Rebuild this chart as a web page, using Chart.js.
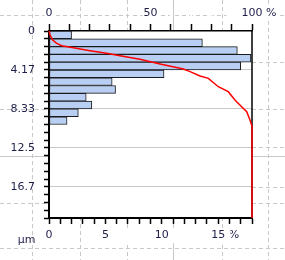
<!DOCTYPE html>
<html><head><meta charset="utf-8">
<script src="https://cdn.jsdelivr.net/npm/chart.js@4.4.1/dist/chart.umd.min.js"></script>
<style>html,body{margin:0;padding:0;background:#fff}#wrap{width:285px;height:260px;position:relative}</style>
</head><body><div id="wrap"><canvas id="c"></canvas></div>
<script>
// ---- data ----
const binCentersUm = [0.417, 1.25, 2.083, 2.917, 3.75, 4.583, 5.417, 6.25, 7.083, 7.917, 8.75, 9.583];
const binPercent   = [2.0, 13.6, 16.7, 17.9, 17.0, 10.2, 5.6, 5.9, 3.3, 3.8, 2.6, 1.6];
const cumSizeUm    = [0, 0.43, 0.96, 1.32, 1.57, 1.79, 2.11, 2.39, 2.64, 3.03, 3.53, 4.06, 4.35, 4.81, 5.06, 5.96, 6.49, 7.38, 8.10, 8.63, 9.52, 10.2, 20];
const cumPercent   = [0, 0.5, 1.8, 3.8, 6.3, 12.0, 20.2, 28.4, 35.0, 44.8, 54.7, 66.2, 69.5, 74.4, 78.5, 83.4, 88.3, 91.6, 94.9, 97.4, 99.0, 100, 100];
const yTickLabels      = ['0', '4.17', '8.33', '12.5', '16.7'];
const bottomTickLabels = ['0', '5', '10', '15 %'];
const topTickLabels    = ['0', '50', '100 %'];
const yUnitLabel = 'μm';

const FONT = {family: 'DejaVu Sans', size: 11};
const TXT = '#1e1e4a';
const GRIDC = '#c8c8c8';
const Y_STEP = 20 / 24;

function padPct(s) { return s.endsWith(' %') ? '    ' + s : s; }
function tickNo(v, step) { return Math.round(v / step); }

// decorative page grid behind the chart
const bgPlugin = {
  id: 'bg',
  beforeDraw(chart) {
    const ctx = chart.ctx, W = chart.width, H = chart.height, a = chart.chartArea;
    ctx.save();
    ctx.fillStyle = '#fff'; ctx.fillRect(0, 0, W, H);
    ctx.strokeStyle = GRIDC; ctx.lineWidth = 1;
    ctx.setLineDash([4, 3]);
    [15.5, 109.5, 203.5, 248.5].forEach(y => { ctx.beginPath(); ctx.moveTo(0, y); ctx.lineTo(W, y); ctx.stroke(); });
    [62.5, 147.5, 187.5].forEach(y => { ctx.beginPath(); ctx.moveTo(a.right, y); ctx.lineTo(W, y); ctx.stroke(); });
    [32.5, 80.5, 127.5, 222.5, 268.5].forEach(x => { ctx.beginPath(); ctx.moveTo(x, 0); ctx.lineTo(x, H); ctx.stroke(); });
    ctx.setLineDash([]);
    ctx.beginPath(); ctx.moveTo(173.5, 0); ctx.lineTo(173.5, H); ctx.stroke();
    ctx.beginPath(); ctx.moveTo(0, 156.5); ctx.lineTo(W, 156.5); ctx.stroke();
    ctx.fillStyle = '#fff';
    ctx.fillRect(a.left, a.top, a.right - a.left, a.bottom - a.top);
    ctx.restore();
  },
  beforeDatasetsDraw(chart) {
    const ctx = chart.ctx, a = chart.chartArea;
    ctx.save();
    ctx.strokeStyle = '#000'; ctx.lineWidth = 1.5;
    ctx.beginPath(); ctx.moveTo(a.right, a.top); ctx.lineTo(a.right, a.bottom); ctx.stroke();
    ctx.restore();
  },
  afterDraw(chart) {
    const ctx = chart.ctx;
    const xs = chart.scales.x, ys = chart.scales.y;
    ctx.save();
    ctx.font = FONT.size + 'px "' + FONT.family + '"';
    ctx.fillStyle = TXT; ctx.textAlign = 'center'; ctx.textBaseline = 'middle';
    ctx.fillText(yUnitLabel, (ys.left + ys.right) / 2 + 2, xs.top + 22);
    ctx.restore();
  }
};

new Chart(document.getElementById('c'), {
  data: {
    datasets: [
      {
        type: 'bar', indexAxis: 'y', xAxisID: 'x', yAxisID: 'y',
        data: binCentersUm.map((u, i) => ({y: u, x: binPercent[i]})),
        backgroundColor: '#b8cff3', borderColor: '#1a1a1a', borderWidth: 1,
        borderSkipped: false, barPercentage: 1, categoryPercentage: 1, grouped: false, order: 2
      },
      {
        type: 'line', indexAxis: 'y', xAxisID: 'x2', yAxisID: 'y',
        data: cumSizeUm.map((u, i) => ({y: u, x: cumPercent[i]})),
        borderColor: '#ff0000', borderWidth: 1.5, pointRadius: 0, tension: 0,
        fill: false, clip: 4, order: 1
      }
    ]
  },
  options: {
    responsive: true, maintainAspectRatio: false, animation: false,
    layout: {padding: {left: 0, right: 33, top: 0, bottom: 0}},
    plugins: {legend: {display: false}, tooltip: {enabled: false}},
    scales: {
      y: {
        type: 'linear', position: 'left', reverse: true, min: 0, max: 20, offset: false,
        afterFit(s) { s.width = 49; },
        border: {display: true, color: '#000', width: 2},
        grid: {
          offset: false, drawOnChartArea: true, tickLength: 5, tickWidth: 1.5, tickColor: '#000',
          color: c => { const k = c.tick ? tickNo(c.tick.value, Y_STEP) : 0; return (k % 5 === 0 && k > 0 && k < 24) ? GRIDC : 'rgba(0,0,0,0)'; },
          borderDash: [4, 3], tickBorderDash: [], lineWidth: 1
        },
        ticks: {
          stepSize: Y_STEP, autoSkip: false, padding: 9, color: TXT, font: FONT,
          callback: (v) => { const k = tickNo(v, Y_STEP); return k % 5 === 0 ? (yTickLabels[k / 5] ?? '') : ''; }
        }
      },
      x: {
        type: 'linear', position: 'bottom', min: 0, max: 18, offset: false,
        afterFit(s) { s.height = 42; },
        border: {display: true, color: '#000', width: 2},
        grid: {offset: false, drawOnChartArea: false, tickLength: 6, tickWidth: 1.5, tickColor: '#000'},
        ticks: {
          stepSize: 1, autoSkip: false, maxRotation: 0, padding: 5, color: TXT, font: FONT,
          showLabelBackdrop: true, backdropColor: '#fff', backdropPadding: 1,
          callback: (v) => v % 5 === 0 ? padPct(bottomTickLabels[v / 5] ?? '') : ''
        }
      },
      x2: {
        type: 'linear', position: 'top', min: 0, max: 100, offset: false,
        afterFit(s) { s.height = 31; },
        border: {display: true, color: '#000', width: 1.5},
        grid: {offset: false, drawOnChartArea: false, tickLength: 7, tickWidth: 1.5, tickColor: '#000'},
        ticks: {
          stepSize: 10, autoSkip: false, maxRotation: 0, padding: 4, color: TXT, font: FONT,
          showLabelBackdrop: true, backdropColor: '#fff', backdropPadding: 1,
          callback: (v) => v % 50 === 0 ? padPct(topTickLabels[v / 50] ?? '') : ''
        }
      }
    }
  },
  plugins: [bgPlugin]
});
</script>
</body></html>
